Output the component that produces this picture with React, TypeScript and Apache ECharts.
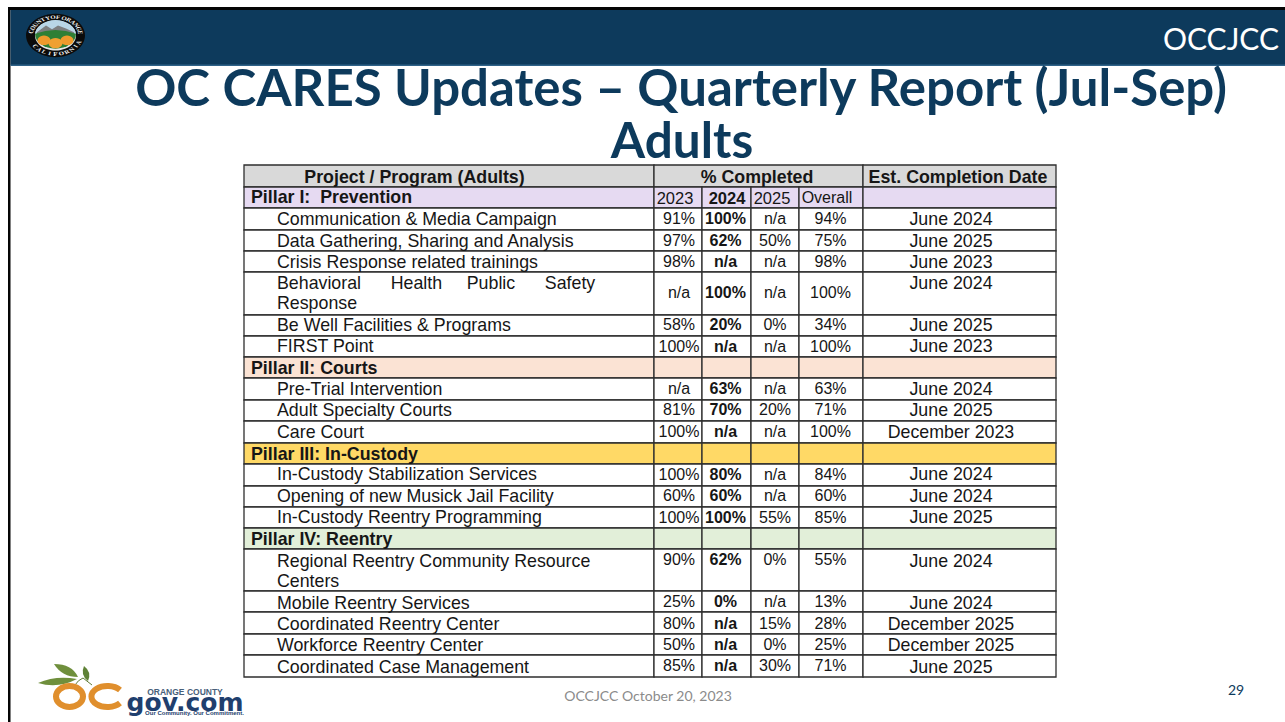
import React, { useEffect, useRef } from "react";
import * as echarts from "echarts";

// ---------- content ----------
const headerProject = "Project / Program (Adults)";
const headerCompleted = "% Completed";
const headerDate = "Est. Completion Date";
const yearLabels = ["2023", "2024", "2025", "Overall"];

const rowLabels = [
  "Pillar I:  Prevention",
  "Communication & Media Campaign",
  "Data Gathering, Sharing and Analysis",
  "Crisis Response related trainings",
  "Behavioral      Health     Public      Safety\nResponse",
  "Be Well Facilities & Programs",
  "FIRST Point",
  "Pillar II: Courts",
  "Pre-Trial Intervention",
  "Adult Specialty Courts",
  "Care Court",
  "Pillar III: In-Custody",
  "In-Custody Stabilization Services",
  "Opening of new Musick Jail Facility",
  "In-Custody Reentry Programming",
  "Pillar IV: Reentry",
  "Regional Reentry Community Resource\nCenters",
  "Mobile Reentry Services",
  "Coordinated Reentry Center",
  "Workforce Reentry Center",
  "Coordinated Case Management",
];
const pct2023 = ["", "91%", "97%", "98%", "n/a", "58%", "100%", "", "n/a", "81%", "100%", "", "100%", "60%", "100%", "", "90%", "25%", "80%", "50%", "85%"];
const pct2024 = ["", "100%", "62%", "n/a", "100%", "20%", "n/a", "", "63%", "70%", "n/a", "", "80%", "60%", "100%", "", "62%", "0%", "n/a", "n/a", "n/a"];
const pct2025 = ["", "n/a", "50%", "n/a", "n/a", "0%", "n/a", "", "n/a", "20%", "n/a", "", "n/a", "n/a", "55%", "", "0%", "n/a", "15%", "0%", "30%"];
const pctOverall = ["", "94%", "75%", "98%", "100%", "34%", "100%", "", "63%", "71%", "100%", "", "84%", "60%", "85%", "", "55%", "13%", "28%", "25%", "71%"];
const dates = ["", "June 2024", "June 2025", "June 2023", "June 2024", "June 2025", "June 2023", "", "June 2024", "June 2025", "December 2023", "", "June 2024", "June 2024", "June 2025", "", "June 2024", "June 2024", "December 2025", "December 2025", "June 2025"];

// ---------- layout ----------
const colEdges = [244, 654, 702, 751, 799, 863, 1056];
const pctCenters = [679, 725.5, 775, 830.5];
const yearCenters = [675, 727, 772, 827];
const dateCenter = 951;
const rowEdges = [165, 187, 208, 230, 251, 272, 315, 336, 357, 378, 400, 421, 443, 464, 486, 507, 528, 549, 591, 612, 634, 655, 677];
const nameY = [197, 218.5, 240.5, 261.5, 282.5, 324.5, 345.5, 367.5, 388.5, 409.5, 431.5, 453.5, 473.5, 495.5, 516.5, 538.5, 560.5, 602.5, 623.5, 644.5, 666.5];
const pctY = [0, 218.5, 240.5, 261.5, 292.5, 324.5, 346.5, 0, 388.5, 409.5, 431.5, 0, 474.5, 495.5, 517.5, 0, 559.5, 601.5, 623.5, 644.5, 665.5];
const sectionFill: Record<number, string> = { 0: "#e6daf2", 7: "#fbe3d4", 11: "#ffd966", 15: "#e2efd9" };
const HEAD_FILL = "#d9d9d9";
const INK = "#161616";
const FONT = '"Liberation Sans", Arial, sans-serif';
const NAVY = "#0d3a5c";

type Box = { x0: number; x1: number; y0: number; y1: number; fill: string };
type Label = { x: number; y: number; text: string; bold?: boolean; align: string; size?: number };

const boxes: Box[] = [];
const labels: Label[] = [];

boxes.push({ x0: colEdges[0], x1: colEdges[1], y0: rowEdges[0], y1: rowEdges[1], fill: HEAD_FILL });
boxes.push({ x0: colEdges[1], x1: colEdges[5], y0: rowEdges[0], y1: rowEdges[1], fill: HEAD_FILL });
boxes.push({ x0: colEdges[5], x1: colEdges[6], y0: rowEdges[0], y1: rowEdges[1], fill: HEAD_FILL });
labels.push({ x: 414.5, y: 177, text: headerProject, bold: true, align: "center" });
labels.push({ x: 757, y: 177, text: headerCompleted, bold: true, align: "center" });
labels.push({ x: 958, y: 177, text: headerDate, bold: true, align: "center" });

rowLabels.forEach((name, i) => {
  const top = rowEdges[i + 1];
  const bottom = rowEdges[i + 2];
  const section = sectionFill[i];
  const fill = section || "#ffffff";
  for (let c = 0; c < colEdges.length - 1; c++) {
    boxes.push({ x0: colEdges[c], x1: colEdges[c + 1], y0: top, y1: bottom, fill });
  }
  if (section) {
    labels.push({ x: 251, y: nameY[i], text: name, bold: true, align: "left" });
  } else {
    name.split("\n").forEach((line, k) => {
      labels.push({ x: 277, y: nameY[i] + k * 20.5, text: line, align: "left" });
    });
    [pct2023[i], pct2024[i], pct2025[i], pctOverall[i]].forEach((t, c) => {
      labels.push({ x: pctCenters[c], y: pctY[i], text: t, bold: c === 1, align: "center", size: 16 });
    });
    labels.push({ x: dateCenter, y: nameY[i], text: dates[i], align: "center" });
  }
});
yearLabels.forEach((t, c) => {
  labels.push({ x: yearCenters[c], y: 197.5, text: t, bold: c === 1, align: "center", size: c === 3 ? 16 : 16.5 });
});

// ---------- logo shapes ----------
echarts.graphic.registerShape("leafA", echarts.graphic.extendPath("M38 683 Q56 675 77 679 Q58 689 38 683 Z", {}));
echarts.graphic.registerShape("leafB", echarts.graphic.extendPath("M54 664 Q72 664 78 677 Q62 677 54 664 Z", {}));
echarts.graphic.registerShape("leafC", echarts.graphic.extendPath("M84 666 Q92 672 88 681 Q80 675 84 666 Z", {}));
echarts.graphic.registerShape("stem", echarts.graphic.extendPath("M75 685 Q78 680 83 678 L92 685", {}));
echarts.graphic.registerShape("ocC", echarts.graphic.extendPath("M120 690 A16 10.5 0 1 0 120 703", {}));
echarts.graphic.registerShape("sealSky", echarts.graphic.extendPath("M35 35 A20.5 20.5 0 0 1 76 35 Z", {}));
echarts.graphic.registerShape("sealHills", echarts.graphic.extendPath("M37 31 L46 22 L52 27 L58 22 L66 26 L74 31 L74 36 L37 36 Z", {}));
echarts.graphic.registerShape("sealField", echarts.graphic.extendPath("M35 33 Q55.5 23 76 33 A20.5 20.5 0 0 1 35 33 Z", {}));

function sealLetters(text: string, startDeg: number, stepDeg: number, radius: number, bottom: boolean) {
  return text.split("").map((ch, i) => {
    const a = ((startDeg + i * stepDeg) * Math.PI) / 180;
    return {
      type: "text",
      x: 55.5 + radius * Math.sin(a),
      y: 35.5 - radius * Math.cos(a),
      rotation: bottom ? -(a - Math.PI) : -a,
      style: { text: ch, fill: "#f4f4f4", font: '700 7px "Liberation Serif", serif', align: "center", verticalAlign: "middle" },
    };
  });
}

export default function App() {
  const ref = useRef<HTMLDivElement>(null);
  useEffect(() => {
    if (!ref.current) return;
    const chart = echarts.init(ref.current, undefined, { renderer: "svg" });
    chart.setOption({
      animation: false,
      backgroundColor: "#ffffff",
      grid: { left: 0, right: 0, top: 0, bottom: 0 },
      xAxis: { type: "value", min: 0, max: 1285, show: false },
      yAxis: { type: "value", min: 0, max: 722, inverse: true, show: false },
      series: [
        {
          type: "custom",
          coordinateSystem: "cartesian2d",
          clip: false,
          silent: true,
          data: boxes.map((b) => [b.x0, b.y0, b.x1, b.y1]),
          renderItem: (params: any, api: any) => {
            const p0 = api.coord([api.value(0), api.value(1)]);
            const p1 = api.coord([api.value(2), api.value(3)]);
            return {
              type: "rect",
              shape: { x: p0[0], y: p0[1], width: p1[0] - p0[0], height: p1[1] - p0[1] },
              style: { fill: boxes[params.dataIndex].fill, stroke: "#2e2e2e", lineWidth: 1.3 },
            };
          },
        },
        {
          type: "custom",
          coordinateSystem: "cartesian2d",
          clip: false,
          silent: true,
          data: labels.map((l) => [l.x, l.y]),
          renderItem: (params: any, api: any) => {
            const l = labels[params.dataIndex];
            const p = api.coord([api.value(0), api.value(1)]);
            return {
              type: "text",
              x: p[0],
              y: p[1],
              style: {
                text: l.text,
                fill: INK,
                align: l.align,
                verticalAlign: "middle",
                font: `${l.bold ? "700" : "400"} ${l.size || 17.8}px ${FONT}`,
              },
            };
          },
        },
      ],
      graphic: [
        { type: "rect", shape: { x: 8, y: 7, width: 1277, height: 3 }, style: { fill: "#050505" } },
        { type: "rect", shape: { x: 8, y: 7, width: 2.5, height: 715 }, style: { fill: "#050505" } },
        { type: "rect", shape: { x: 10.5, y: 10, width: 1274.5, height: 55 }, style: { fill: NAVY } },
        { type: "rect", shape: { x: 10.5, y: 64.5, width: 1274.5, height: 1.5 }, style: { fill: "#2f6288" } },
        // seal, squeezed vertically as in the slide
        {
          type: "group",
          x: 0,
          y: 35.5 * (1 - 0.735),
          scaleY: 0.735,
          children: [
            { type: "circle", shape: { cx: 55.5, cy: 35.5, r: 29.5 }, style: { fill: "#0b0b0b" } },
            { type: "circle", shape: { cx: 55.5, cy: 35.5, r: 20.5 }, style: { fill: "#e8e8e8" } },
            { type: "sealSky", style: { fill: "#b9d6e6" } },
            { type: "sealHills", style: { fill: "#7d7f80" } },
            { type: "sealField", style: { fill: "#2f7f35" } },
            { type: "circle", shape: { cx: 44, cy: 42, r: 6.5 }, style: { fill: "#ee9a2c" } },
            { type: "circle", shape: { cx: 67, cy: 42, r: 6.5 }, style: { fill: "#ee9a2c" } },
            { type: "circle", shape: { cx: 55.5, cy: 46, r: 7 }, style: { fill: "#f0a030" } },
            ...sealLetters("COUNTY", -78, 12, 25, false),
            ...sealLetters("OF", -6, 12, 25, false),
            ...sealLetters("ORANGE", 20, 12, 25, false),
            ...sealLetters("CALIFORNIA", 234, -13.5, 25, true),
          ],
        },
        // header + titles
        { type: "text", x: 1279, y: 38, style: { text: "OCCJCC", fill: "#ffffff", font: '400 30px Lato, sans-serif', align: "right", verticalAlign: "middle" } },
        { type: "text", x: 681, y: 86.5, style: { text: "OC CARES Updates – Quarterly Report (Jul-Sep)", fill: NAVY, font: '700 51px Lato, sans-serif', align: "center", verticalAlign: "middle" } },
        { type: "text", x: 682, y: 138.5, style: { text: "Adults", fill: NAVY, font: '700 49.5px Lato, sans-serif', align: "center", verticalAlign: "middle" } },
        // OC logo
        { type: "leafA", style: { fill: "#6f8f3c" } },
        { type: "leafB", style: { fill: "#6f8f3c" } },
        { type: "leafC", style: { fill: "#5f8236" } },
        { type: "stem", style: { fill: "none", stroke: "#5f7a34", lineWidth: 1 } },
        { type: "ellipse", shape: { cx: 69.5, cy: 696.5, rx: 13.5, ry: 10.5 }, style: { fill: "none", stroke: "#e08f2d", lineWidth: 6 } },
        { type: "ocC", style: { fill: "none", stroke: "#e08f2d", lineWidth: 6 } },
        { type: "text", x: 185, y: 692, style: { text: "ORANGE COUNTY", fill: "#47607a", font: '700 8.5px "Liberation Sans", sans-serif', align: "center", verticalAlign: "middle" } },
        { type: "text", x: 185, y: 702, style: { text: "gov.com", fill: "#1f3f6e", font: '700 25px "DejaVu Sans", sans-serif', align: "center", verticalAlign: "middle" } },
        { type: "text", x: 194.5, y: 712.5, style: { text: "Our Community. Our Commitment.", fill: "#1f3f6e", font: '700 6px "Liberation Sans", sans-serif', align: "center", verticalAlign: "middle" } },
        // footer
        { type: "text", x: 648, y: 695, style: { text: "OCCJCC October 20, 2023", fill: "#8b8b8b", font: '400 14px Lato, sans-serif', align: "center", verticalAlign: "middle" } },
        { type: "text", x: 1236, y: 689, style: { text: "29", fill: "#0d3a5c", font: '400 14px Lato, sans-serif', align: "center", verticalAlign: "middle" } },
      ],
    });
    return () => chart.dispose();
  }, []);
  return <div ref={ref} style={{ position: "fixed", left: 0, top: 0, width: 1285, height: 722 }} />;
}
